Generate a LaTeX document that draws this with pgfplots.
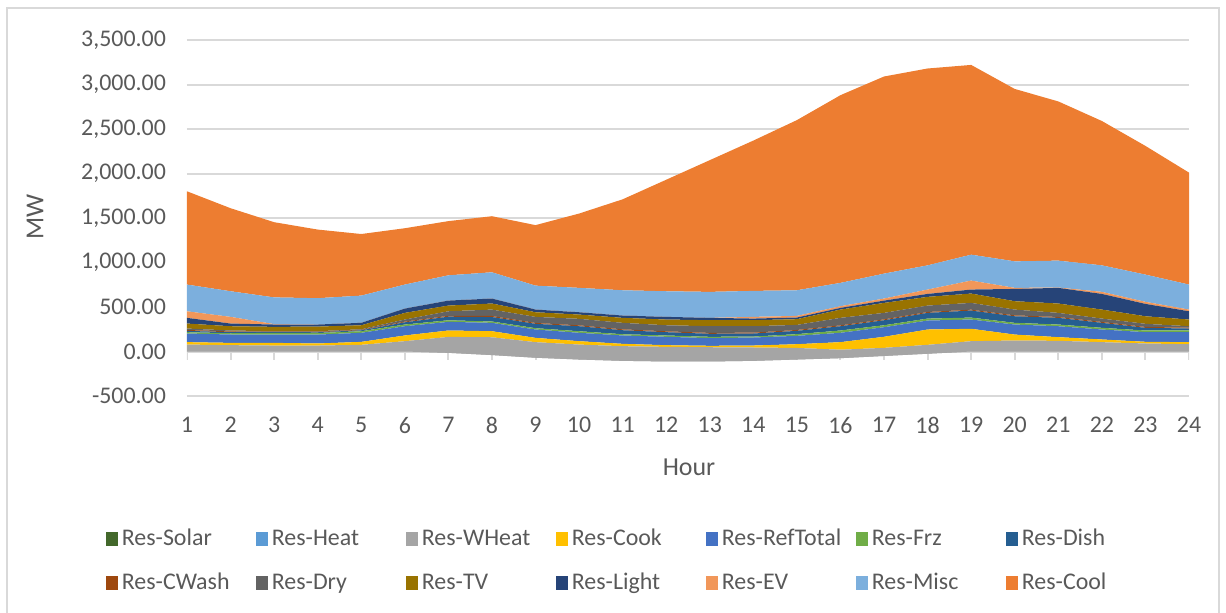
\documentclass[border=0pt]{standalone}
\usepackage{fontspec}
\setmainfont{Carlito}
\usepackage{pgfplots}
\usepackage{pgfplotstable}
\pgfplotsset{compat=1.18}
\definecolor{gridgray}{HTML}{D9D9D9}
\definecolor{txtgray}{HTML}{595959}
\definecolor{cSolar}{HTML}{43682B}
\definecolor{cHeat}{HTML}{5B9BD5}
\definecolor{cWHeat}{HTML}{A5A5A5}
\definecolor{cCook}{HTML}{FFC000}
\definecolor{cRef}{HTML}{4472C4}
\definecolor{cFrz}{HTML}{70AD47}
\definecolor{cDish}{HTML}{255E91}
\definecolor{cCWash}{HTML}{9E480E}
\definecolor{cDry}{HTML}{636363}
\definecolor{cTV}{HTML}{997300}
\definecolor{cLight}{HTML}{264478}
\definecolor{cEV}{HTML}{F1975A}
\definecolor{cMisc}{HTML}{7CAFDD}
\definecolor{cCool}{HTML}{ED7D31}
\pgfplotstableread{
h solar heat wheat cook ref frz dish cwash dry tv light ev misc cool
1 0 0 78 27 97 15 15 10 16 56 64 74 300 1048
2 0 0 71 26 94 14 12 8 11 48 30 75 288 933
3 0 0 67 30 93 20 8 5 5 49 26 5 300 845
4 0 0 67 23 100 18 8 6 6 52 23 0 296 771
5 0 0 75 33 102 18 10 6 6 45 27 0 306 692
6 0 0 116 64 104 19 25 8 23 75 48 0 270 633
7 -15 0 179 72 97 18 40 10 51 64 56 0 284 609
8 -40 0 200 68 94 15 50 12 72 68 56 0 295 630
9 -70 0 175 48 94 15 49 10 68 52 30 0 269 680
10 -90 0 168 38 94 18 56 10 73 48 26 0 274 835
11 -105 0 165 26 94 14 45 10 73 56 26 0 284 1022
12 -112 0 164 19 94 15 37 10 68 64 30 0 288 1253
13 -112 0 160 16 86 15 34 10 75 68 26 0 292 1480
14 -105 0 150 22 90 11 34 10 72 68 18 19 292 1689
15 -90 0 130 42 94 19 37 10 57 64 19 18 288 1912
16 -75 0 95 85 105 26 48 10 84 93 19 19 262 2109
17 -50 0 91 124 108 22 56 10 73 112 26 23 280 2215
18 -25 0 100 172 101 22 64 10 72 98 33 49 272 2212
19 0 0 116 139 104 22 79 10 76 105 45 101 291 2132
20 0 0 123 67 113 19 74 10 65 94 138 12 298 1937
21 0 0 120 41 123 19 75 10 46 105 176 4 302 1789
22 0 0 105 30 112 19 56 10 38 101 176 23 298 1622
23 0 0 90 19 108 19 30 10 35 85 139 23 306 1446
24 0 0 82 23 112 19 22 10 16 75 93 19 281 1258
}\datatable
\begin{document}
\begin{tikzpicture}
\useasboundingbox (-93.5bp,-108.5bp) rectangle (519.5bp,198bp);
\draw[gridgray, line width=1bp] (-90bp,-130bp) -- (-90bp,194bp) -- (516bp,194bp) -- (516bp,-130bp);
\begin{axis}[
  scale only axis, width=501bp, height=178bp,
  at={(0,0)}, anchor=south west,
  xmin=1, xmax=24, ymin=-500, ymax=3500,
  stack plots=y,
  axis line style={draw=none},
  xtick={1,...,24}, ytick={-500,0,...,3500},
  major tick length=0pt,
  ymajorgrids, grid style={draw=gridgray, line width=1bp},
  tick label style={font=\fontsize{12}{14}\selectfont, text=txtgray},
  yticklabel style={/pgf/number format/.cd, fixed, fixed zerofill, precision=2, 1000 sep={,}, assume math mode=true, /tikz/.cd, xshift=-7bp},
  xticklabel style={/pgf/number format/assume math mode=true, yshift=-7bp},
  xlabel={Hour}, ylabel={MW},
  xlabel style={at={(axis description cs:0.501,-0.1994)}, anchor=center, font=\fontsize{13}{15}\selectfont, text=txtgray},
  ylabel style={at={(axis description cs:-0.1517,0.503)}, anchor=center, font=\fontsize{13}{15}\selectfont, text=txtgray},
  legend columns=7,
  legend cell align=left,
  legend image code/.code={\fill[#1] (0bp,-3.5bp) rectangle (6bp,3.5bp);},
  legend style={at={(rel axis cs:0.443,-0.4635)}, anchor=center, draw=none, fill=none,
    font=\fontsize{12}{14}\selectfont, text=txtgray,
    /tikz/every even column/.append style={column sep=0pt},
    row sep=6bp,
    nodes={inner sep=2bp, text width=65bp, align=left, text height=9bp, text depth=3bp}},
]
% the solar band lies under the water-heating band in the stack, as in the reference
\addplot[fill=cWHeat, draw=none, forget plot] table[x=h,y=solar]{\datatable} \closedcycle;
\addlegendimage{fill=cSolar, draw=none}
\addlegendentry{Res-Solar}
\addlegendimage{fill=cHeat, draw=none}
\addlegendentry{Res-Heat}
\addplot[fill=cWHeat, draw=none] table[x=h,y=wheat]{\datatable} \closedcycle;
\addlegendentry{Res-WHeat}
\addplot[fill=cCook, draw=none] table[x=h,y=cook]{\datatable} \closedcycle;
\addlegendentry{Res-Cook}
\addplot[fill=cRef, draw=none] table[x=h,y=ref]{\datatable} \closedcycle;
\addlegendentry{Res-RefTotal}
\addplot[fill=cFrz, draw=none] table[x=h,y=frz]{\datatable} \closedcycle;
\addlegendentry{Res-Frz}
\addplot[fill=cDish, draw=none] table[x=h,y=dish]{\datatable} \closedcycle;
\addlegendentry{Res-Dish}
\addplot[fill=cCWash, draw=none] table[x=h,y=cwash]{\datatable} \closedcycle;
\addlegendentry{Res-CWash}
\addplot[fill=cDry, draw=none] table[x=h,y=dry]{\datatable} \closedcycle;
\addlegendentry{Res-Dry}
\addplot[fill=cTV, draw=none] table[x=h,y=tv]{\datatable} \closedcycle;
\addlegendentry{Res-TV}
\addplot[fill=cLight, draw=none] table[x=h,y=light]{\datatable} \closedcycle;
\addlegendentry{Res-Light}
\addplot[fill=cEV, draw=none] table[x=h,y=ev]{\datatable} \closedcycle;
\addlegendentry{Res-EV}
\addplot[fill=cMisc, draw=none] table[x=h,y=misc]{\datatable} \closedcycle;
\addlegendentry{Res-Misc}
\addplot[fill=cCool, draw=none] table[x=h,y=cool]{\datatable} \closedcycle;
\addlegendentry{Res-Cool}
\draw[gridgray, line width=1bp] (axis cs:1,0) -- (axis cs:24,0);
\pgfplotsinvokeforeach{1,...,24}{\draw[gridgray, line width=1bp] (axis cs:#1,0) -- ([yshift=-4bp]axis cs:#1,0);}
\end{axis}
\end{tikzpicture}
\end{document}
